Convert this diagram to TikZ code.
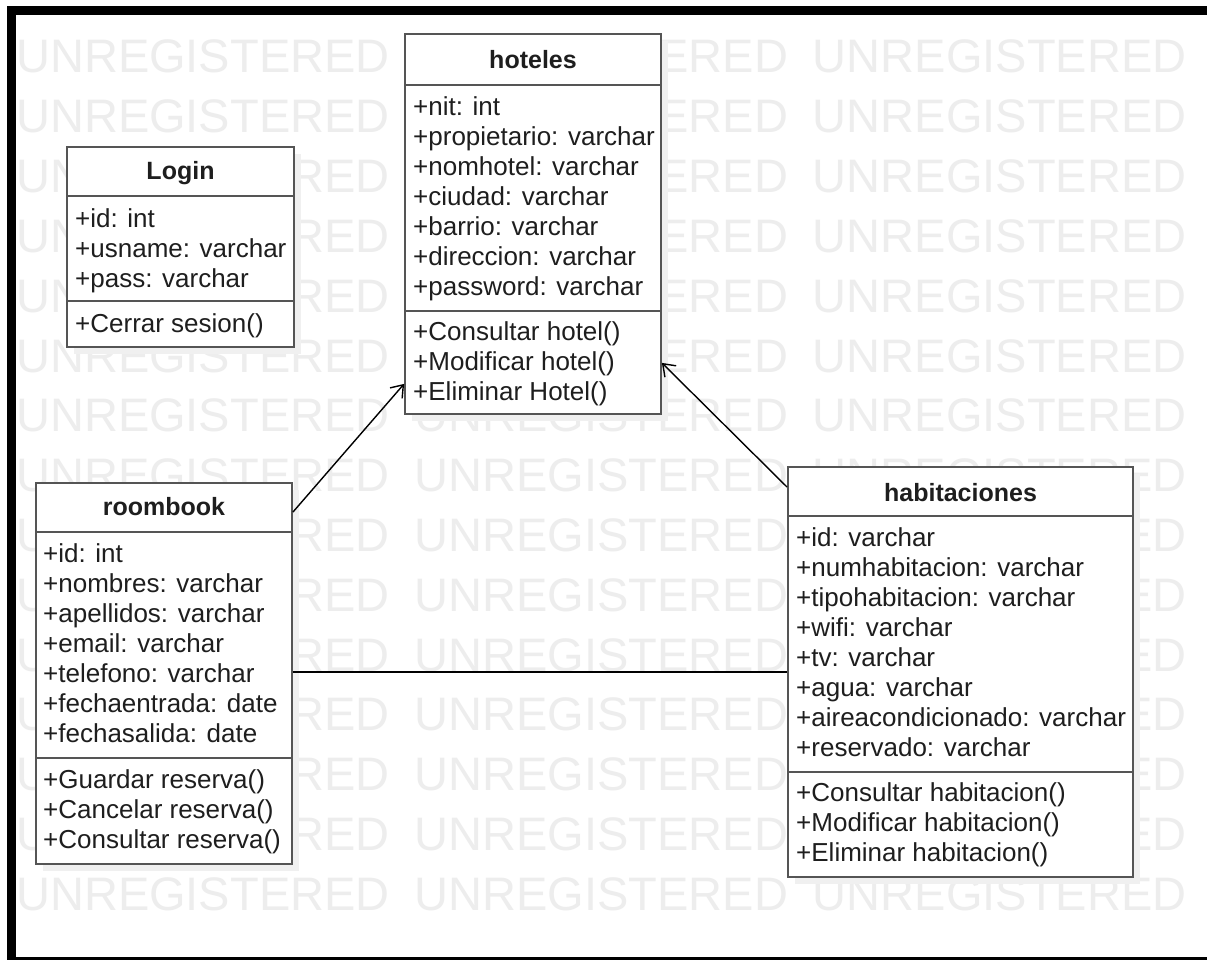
\documentclass[tikz,border=0pt]{standalone}
\usepackage{fontspec}
\setmainfont{Liberation Sans}
\usetikzlibrary{arrows.meta,shadows}
\definecolor{boxline}{RGB}{85,85,85}
\definecolor{ink}{RGB}{30,30,30}
\definecolor{wmgray}{RGB}{237,237,237}
\definecolor{shade}{RGB}{240,240,240}
\newcommand{\Wmrow}{UNREGISTERED\hspace{25pt}UNREGISTERED\hspace{25pt}UNREGISTERED}
\tikzstyle{classbox}=[draw=boxline, line width=1.8pt, fill=white, inner sep=0pt, drop shadow={shadow xshift=7pt, shadow yshift=-7pt, fill=shade, opacity=1}]
\tikzstyle{classtitle}=[font=\fontsize{25}{30}\selectfont\bfseries, text=ink, anchor=base, inner sep=0pt]
\tikzstyle{members}=[font=\fontsize{26}{30}\selectfont, text=ink, align=left, anchor=base west, inner sep=0pt]
\tikzstyle{divider}=[draw=boxline, line width=1.8pt]
\tikzstyle{assoc}=[line width=1.4pt, color=black]
\tikzstyle{watermark}=[font=\fontsize{47}{47}\selectfont, text=wmgray, anchor=base west, inner sep=0pt]

\begin{document}
\begin{tikzpicture}[x=1pt,y=-1pt]
  \useasboundingbox (0,0) rectangle (1207,960);
  \fill[white] (0,0) rectangle (1207,960);

  %% Watermark
  \draw (16,73) node[watermark] (wm1) {\Wmrow};
  \draw (16,132.8) node[watermark] (wm2) {\Wmrow};
  \draw (16,192.6) node[watermark] (wm3) {\Wmrow};
  \draw (16,252.4) node[watermark] (wm4) {\Wmrow};
  \draw (16,312.2) node[watermark] (wm5) {\Wmrow};
  \draw (16,372) node[watermark] (wm6) {\Wmrow};
  \draw (16,431.8) node[watermark] (wm7) {\Wmrow};
  \draw (16,491.6) node[watermark] (wm8) {\Wmrow};
  \draw (16,551.4) node[watermark] (wm9) {\Wmrow};
  \draw (16,611.2) node[watermark] (wm10) {\Wmrow};
  \draw (16,671) node[watermark] (wm11) {\Wmrow};
  \draw (16,730.8) node[watermark] (wm12) {\Wmrow};
  \draw (16,790.6) node[watermark] (wm13) {\Wmrow};
  \draw (16,850.4) node[watermark] (wm14) {\Wmrow};
  \draw (16,910.2) node[watermark] (wm15) {\Wmrow};

  %% Classes
  \draw (180.5,247) node[classbox, minimum width=227, minimum height=200] (login) {};
  \draw (533,224) node[classbox, minimum width=256, minimum height=380] (hoteles) {};
  \draw (164,673.5) node[classbox, minimum width=256, minimum height=381] (roombook) {};
  \draw (960.5,672) node[classbox, minimum width=345, minimum height=410] (habitaciones) {};

  \draw[divider] ([yshift=-50pt]login.north west) -- ([yshift=-50pt]login.north east);
  \draw[divider] ([yshift=-155pt]login.north west) -- ([yshift=-155pt]login.north east);
  \draw[divider] ([yshift=-52pt]hoteles.north west) -- ([yshift=-52pt]hoteles.north east);
  \draw[divider] ([yshift=-278pt]hoteles.north west) -- ([yshift=-278pt]hoteles.north east);
  \draw[divider] ([yshift=-50pt]roombook.north west) -- ([yshift=-50pt]roombook.north east);
  \draw[divider] ([yshift=-276pt]roombook.north west) -- ([yshift=-276pt]roombook.north east);
  \draw[divider] ([yshift=-50pt]habitaciones.north west) -- ([yshift=-50pt]habitaciones.north east);
  \draw[divider] ([yshift=-306pt]habitaciones.north west) -- ([yshift=-306pt]habitaciones.north east);

  %% member lists sit on the baseline of their last line
  \draw (180.5,180) node[classtitle] (loginName) {Login};
  \draw (75,287) node[members] (loginAttr) {+id: int\\+usname: varchar\\+pass: varchar};
  \draw (75,332) node[members] (loginOps) {+Cerrar sesion()};

  \draw (533,69) node[classtitle] (hotelesName) {hoteles};
  \draw (413,295) node[members] (hotelesAttr) {+nit: int\\+propietario: varchar\\+nomhotel: varchar\\+ciudad: varchar\\+barrio: varchar\\+direccion: varchar\\+password: varchar};
  \draw (413,400) node[members] (hotelesOps) {+Consultar hotel()\\+Modificar hotel()\\+Eliminar Hotel()};

  \draw (164,515) node[classtitle] (roombookName) {roombook};
  \draw (43,742) node[members] (roombookAttr) {+id: int\\+nombres: varchar\\+apellidos: varchar\\+email: varchar\\+telefono: varchar\\+fechaentrada: date\\+fechasalida: date};
  \draw (43,848) node[members] (roombookOps) {+Guardar reserva()\\+Cancelar reserva()\\+Consultar reserva()};

  \draw (960.5,501) node[classtitle] (habitacionesName) {habitaciones};
  \draw (796,756) node[members] (habitacionesAttr) {+id: varchar\\+numhabitacion: varchar\\+tipohabitacion: varchar\\+wifi: varchar\\+tv: varchar\\+agua: varchar\\+aireacondicionado: varchar\\+reservado: varchar};
  \draw (796,861) node[members] (habitacionesOps) {+Consultar habitacion()\\+Modificar habitacion()\\+Eliminar habitacion()};

  %% Associations
  \draw[assoc,-{Straight Barb[length=11pt,width=16pt]}] ([yshift=-30pt]roombook.north east) -- ([yshift=31pt]hoteles.south west);
  \draw[assoc,-{Straight Barb[length=11pt,width=16pt]}] ([yshift=-21pt]habitaciones.north west) -- ([yshift=52pt]hoteles.south east);
  \draw[assoc] (roombook.east |- habitaciones.west) -- (habitaciones.west);

  %% Frame
  \draw[line width=9pt] (11.5,11) rectangle (1216,961);
\end{tikzpicture}
\end{document}
